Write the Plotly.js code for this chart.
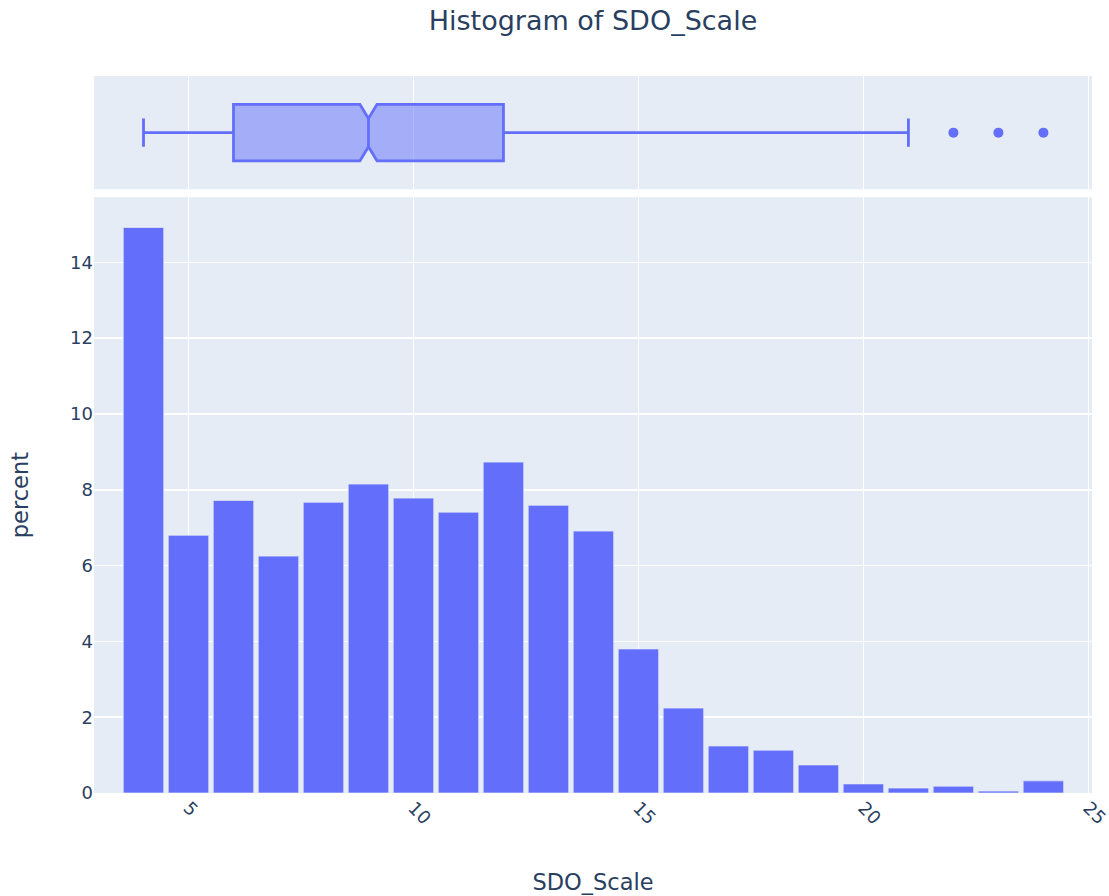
<!DOCTYPE html>
<html>
<head>
<meta charset="utf-8">
<script src="https://cdn.plot.ly/plotly-3.0.1.min.js"></script>
<style>html,body{margin:0;padding:0;background:#fff;}#chart{width:1109px;height:896px;}</style>
</head>
<body>
<div id="chart"></div>
<script>
// Histogram bins (centers) and percent values
const binCenters = [4,5,6,7,8,9,10,11,12,13,14,15,16,17,18,19,20,21,22,23,24];
const percentValues = [14.92,6.80,7.72,6.25,7.67,8.15,7.78,7.41,8.73,7.59,6.91,3.80,2.24,1.24,1.13,0.74,0.24,0.13,0.18,0.05,0.32];
// Box plot statistics
const boxLowerFence = [4];
const boxQ1 = [6];
const boxMedian = [9];
const boxQ3 = [12];
const boxUpperFence = [21];
const boxNotchSpan = [0.19];
const outlierValues = [22,23,24];
const xTickVals = [5,10,15,20,25];

const color = '#636efa';
const fontColor = '#2a3f5f';
const family = '"DejaVu Sans", Verdana, sans-serif';

const traces = [
  {
    type: 'bar',
    x: binCenters,
    y: percentValues,
    marker: {color: color, line: {color: '#E5ECF6', width: 0.7}},
    xaxis: 'x', yaxis: 'y',
    showlegend: false,
    hoverinfo: 'x+y'
  },
  {
    type: 'box',
    orientation: 'h',
    y: [0],
    q1: boxQ1, median: boxMedian, q3: boxQ3,
    lowerfence: boxLowerFence, upperfence: boxUpperFence,
    notched: true, notchspan: boxNotchSpan, notchwidth: 0.25,
    width: 0.5, whiskerwidth: 0.5,
    boxpoints: false,
    fillcolor: 'rgba(99,110,250,0.5)',
    line: {color: color, width: 2.8},
    xaxis: 'x2', yaxis: 'y2',
    showlegend: false
  },
  {
    type: 'scatter',
    mode: 'markers',
    x: outlierValues,
    y: outlierValues.map(() => 0),
    marker: {color: color, size: 10},
    xaxis: 'x2', yaxis: 'y2',
    showlegend: false
  }
];

const layout = {
  width: 1109, height: 896,
  paper_bgcolor: '#ffffff',
  plot_bgcolor: '#E5ECF6',
  font: {family: family, color: fontColor, size: 18},
  margin: {l: 94, r: 17, t: 76, b: 103, pad: 0},
  title: {text: 'Histogram of SDO_Scale', x: 0.5, xref: 'paper', y: 0.977, yanchor: 'middle', font: {size: 27, color: fontColor}},
  bargap: 0.1,
  xaxis: {
    domain: [0, 1], anchor: 'y',
    range: [2.9, 25.08],
    tickvals: xTickVals,
    tickangle: 45,
    ticklabeloverflow: 'allow',
    gridcolor: '#ffffff', gridwidth: 1.5,
    zeroline: false,
    ticks: '', ticklen: 0,
    title: {text: 'SDO_Scale', font: {size: 22.5}, standoff: 46},
    tickfont: {size: 18}
  },
  yaxis: {
    domain: [0, 0.831], anchor: 'x',
    range: [0, 15.72],
    dtick: 2,
    gridcolor: '#ffffff', gridwidth: 1.5,
    zeroline: false,
    title: {text: 'percent', font: {size: 22.5}, standoff: 35},
    tickfont: {size: 18}
  },
  xaxis2: {
    domain: [0, 1], anchor: 'y2',
    matches: 'x',
    range: [2.9, 25.08],
    tickvals: xTickVals,
    showticklabels: false,
    gridcolor: '#ffffff', gridwidth: 1.5,
    zeroline: false
  },
  yaxis2: {
    domain: [0.842, 1], anchor: 'x2',
    range: [-0.5, 0.5],
    showticklabels: false,
    showgrid: false,
    zeroline: false
  }
};

Plotly.newPlot('chart', traces, layout, {displayModeBar: false, staticPlot: true});
</script>
</body>
</html>
